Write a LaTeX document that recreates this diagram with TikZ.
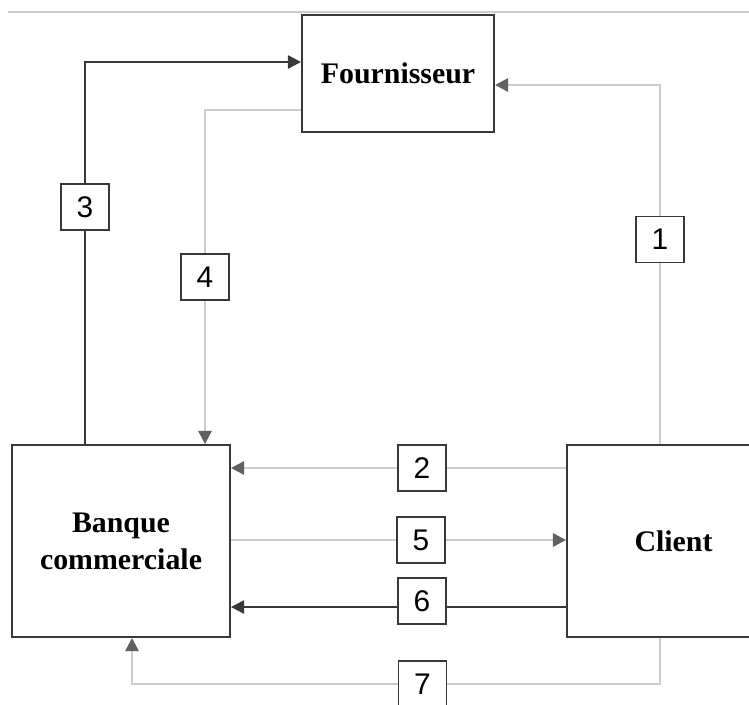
\documentclass[tikz,border=0pt]{standalone}
\usepackage{fontspec}
\setmainfont{Liberation Serif}
\newfontfamily\numfont{Liberation Sans}
\usetikzlibrary{arrows.meta}
\definecolor{palegray}{gray}{0.80}
\definecolor{inkgray}{gray}{0.22}
\definecolor{tipgray}{gray}{0.38}
\tikzset{
  actor/.style={draw=inkgray, line width=1.1pt, fill=white, align=center,
    inner sep=0pt, font=\fontsize{17}{21}\selectfont\bfseries},
  num/.style={draw=inkgray, line width=1pt, fill=white, inner sep=0pt,
    minimum width=0.96cm, minimum height=0.92cm,
    font=\numfont\fontsize{17}{17}\selectfont},
  paleflow/.style={draw=palegray, line width=1.3pt,
    -{Triangle[length=7.5pt,width=7.5pt,color=tipgray]}},
  darkflow/.style={draw=inkgray, line width=1.3pt,
    -{Triangle[length=7.5pt,width=7.5pt,color=inkgray]}},
}
\begin{document}
\begin{tikzpicture}[x=0.02cm, y=-0.02cm]
    \clip (0,0) rectangle (749,704);
    \fill[white] (0,0) rectangle (749,704);
    % rule at the top
    \draw[palegray, line width=0.8pt] (8,12) -- (749,12);
    % the three parties
    \node[actor, minimum width=3.84cm, minimum height=2.34cm] (four) at (398,73.5) {Fournisseur};
    \node[actor, minimum width=4.36cm, minimum height=3.84cm] (bank) at (121,541) {Banque\\commerciale};
    \node[actor, minimum width=4.26cm, minimum height=3.84cm] (cli) at (673.5,541) {Client};
    % corners of the elbow flows
    \coordinate (c7a) at (660,684);
    \coordinate (c7b) at (132,684);
    % flows with their step numbers
    \draw[paleflow] (cli.north -| 660,0) |- node[num, pos=0.285] {1} (four.east |- 0,85);
    \draw[paleflow] (cli.west |- 0,468) -- node[num, pos=0.43] {2} (bank.east |- 0,468);
    \draw[darkflow] (bank.north -| 85,0) |- node[num, pos=0.31] {3} (four.west |- 0,62);
    \draw[paleflow] (four.west |- 0,110) -| node[num, pos=0.75] {4} (bank.north -| 205,0);
    \draw[paleflow] (bank.east |- 0,540) -- node[num, pos=0.567] {5} (cli.west |- 0,540);
    \draw[darkflow] (cli.west |- 0,607) -- node[num, pos=0.43, yshift=3.4pt] {6} (bank.east |- 0,607);
    \draw[paleflow] (cli.south -| c7a) -- (c7a) -- node[num, pos=0.45] {7} (c7b) -- (bank.south -| c7b);
\end{tikzpicture}
\end{document}
